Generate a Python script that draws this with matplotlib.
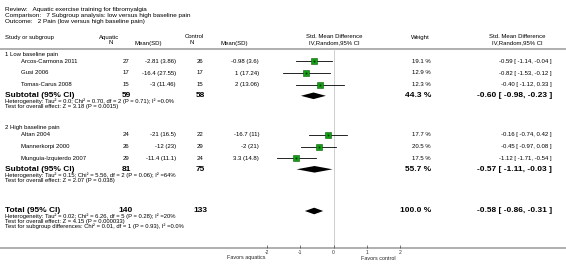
import matplotlib
matplotlib.use("Agg")
import matplotlib.pyplot as plt
import numpy as np

plt.rcParams['font.family'] = ['Liberation Sans', 'DejaVu Sans']

# ---- data ----
title_lines = [
    "Review:   Aquatic exercise training for fibromyalgia",
    "Comparison:   7 Subgroup analysis: low versus high baseline pain",
    "Outcome:   2 Pain (low versus high baseline pain)",
]
group_names = ["1 Low baseline pain", "2 High baseline pain"]

study_names = ["Arcos-Carmona 2011", "Gusi 2006", "Tomas-Carus 2008",
               "Altan 2004", "Mannerkorpi 2000", "Munguia-Izquierdo 2007"]
study_group = [0, 0, 0, 1, 1, 1]
aq_n = [27, 17, 15, 24, 26, 29]
aq_mean_sd = ["-2.81 (3.86)", "-16.4 (27.55)", "-3 (11.46)",
              "-21 (16.5)", "-12 (23)", "-11.4 (11.1)"]
ct_n = [26, 17, 15, 22, 29, 24]
ct_mean_sd = ["-0.98 (3.6)", "1 (17.24)", "2 (13.06)",
              "-16.7 (11)", "-2 (21)", "3.3 (14.8)"]
weights = [19.1, 12.9, 12.3, 17.7, 20.5, 17.5]
smd = [-0.59, -0.82, -0.40, -0.16, -0.45, -1.12]
ci_lo = [-1.14, -1.53, -1.12, -0.74, -0.97, -1.71]
ci_hi = [-0.04, -0.12, 0.33, 0.42, 0.08, -0.54]

sub_aq_n = [59, 81]
sub_ct_n = [58, 75]
sub_weight = [44.3, 55.7]
sub_smd = [-0.60, -0.57]
sub_lo = [-0.98, -1.11]
sub_hi = [-0.23, -0.03]
sub_notes = [
    ["Heterogeneity: Tau\u00b2 = 0.0; Chi\u00b2 = 0.70, df = 2 (P = 0.71); I\u00b2 =0.0%",
     "Test for overall effect: Z = 3.18 (P = 0.0015)"],
    ["Heterogeneity: Tau\u00b2 = 0.15; Chi\u00b2 = 5.56, df = 2 (P = 0.06); I\u00b2 =64%",
     "Test for overall effect: Z = 2.07 (P = 0.038)"],
]

total_aq_n = 140
total_ct_n = 133
total_weight = 100.0
total_smd, total_lo, total_hi = -0.58, -0.86, -0.31
total_notes = [
    "Heterogeneity: Tau\u00b2 = 0.02; Chi\u00b2 = 6.26, df = 5 (P = 0.28); I\u00b2 =20%",
    "Test for overall effect: Z = 4.15 (P = 0.000033)",
    "Test for subgroup differences: Chi\u00b2 = 0.01, df = 1 (P = 0.93), I\u00b2 =0.0%",
]
x_ticks = [-2, -1, 0, 1, 2]
favors = ["Favors aquatics", "Favors control"]

# ---- layout (pixels) ----
W, H = 566, 272
fig = plt.figure(figsize=(W / 100, H / 100), dpi=100)
ax = fig.add_axes([0, 0, 1, 1])
ax.set_xlim(0, W)
ax.set_ylim(H, 0)
ax.axis('off')

# forest panel: x=-2..2 spans px 267..400, y in the same pixel rows
fx_left, fx_right, fx_top, fx_bot = 267, 400, 49, 248
fx = fig.add_axes([fx_left / W, (H - fx_bot) / H,
                   (fx_right - fx_left) / W, (fx_bot - fx_top) / H])
fx.set_xlim(-2, 2)
fx.set_ylim(fx_bot, fx_top)
fx.patch.set_alpha(0)
for s in fx.spines.values():
    s.set_visible(False)
fx.set_yticks([])
fx.set_xticks(x_ticks)
fx.set_xticklabels([str(t) for t in x_ticks])
fx.tick_params(axis='x', direction='in', length=2, width=0.5,
               color='#444444', labelcolor='#333333', labelsize=3.6, pad=1.6)

fs_title, fs_head, fs_row, fs_note, fs_bold = 4.6, 4.3, 4.3, 4.2, 6.0
col_left, col_study = 5, 21
col_aq_n, col_aq_m = 126, 176
col_ct_n, col_ct_m = 200, 259
col_w, col_eff = 431, 552

# title block
for i, line in enumerate(title_lines):
    ax.text(col_left, 10 + i * 6.0, line, fontsize=fs_title, va='center')

# column headers
hy1, hy2 = 37, 43
ax.text(col_left, hy1, "Study or subgroup", fontsize=fs_head, va='center')
ax.text(109, hy1, "Aquatic", fontsize=fs_head, va='center', ha='center')
ax.text(111, hy2, "N", fontsize=fs_head, va='center', ha='center')
ax.text(148, hy2, "Mean(SD)", fontsize=fs_head, va='center', ha='center')
ax.text(194, hy1, "Control", fontsize=fs_head, va='center', ha='center')
ax.text(192, hy2, "N", fontsize=fs_head, va='center', ha='center')
ax.text(234, hy2, "Mean(SD)", fontsize=fs_head, va='center', ha='center')
ax.text(334, hy1, "Std. Mean Difference", fontsize=fs_head, va='center', ha='center')
ax.text(334, hy2, "IV,Random,95% CI", fontsize=fs_head, va='center', ha='center')
ax.text(420, hy1, "Weight", fontsize=fs_head, va='center', ha='center')
ax.text(517, hy1, "Std. Mean Difference", fontsize=fs_head, va='center', ha='center')
ax.text(517, hy2, "IV,Random,95% CI", fontsize=fs_head, va='center', ha='center')

ax.plot([0, W], [49, 49], color='#9a9a9a', lw=1.1, solid_capstyle='butt')
ax.plot([0, W], [fx_bot, fx_bot], color='#9a9a9a', lw=1.1, solid_capstyle='butt')

fx.axvline(0, color='#c8c8c8', lw=0.6, zorder=0)


def eff_text(m, lo, hi):
    return f"{m:.2f} [ {lo:.2f}, {hi:.2f} ]"


def diamond(y, m, lo, hi, h=3.3):
    fx.fill([lo, m, hi, m], [y, y - h, y, y + h], color='black', lw=0, clip_on=False)


group_top = [54.5, 128]
row_step = 11.7
for g, top in enumerate(group_top):
    ax.text(col_left, top, group_names[g], fontsize=fs_row, va='center')
    idx = [i for i, sg in enumerate(study_group) if sg == g]
    for k, i in enumerate(idx):
        y = top + 6.8 + k * row_step
        ax.text(col_study, y, study_names[i], fontsize=fs_row, va='center')
        ax.text(col_aq_n, y, str(aq_n[i]), fontsize=fs_row, va='center', ha='center')
        ax.text(col_aq_m, y, aq_mean_sd[i], fontsize=fs_row, va='center', ha='right')
        ax.text(col_ct_n, y, str(ct_n[i]), fontsize=fs_row, va='center', ha='center')
        ax.text(col_ct_m, y, ct_mean_sd[i], fontsize=fs_row, va='center', ha='right')
        ax.text(col_w, y, f"{weights[i]:.1f} %", fontsize=fs_row, va='center', ha='right')
        ax.text(col_eff, y, eff_text(smd[i], ci_lo[i], ci_hi[i]), fontsize=fs_row,
                va='center', ha='right')
        fx.plot([ci_lo[i], ci_hi[i]], [y, y], color='black', lw=0.6, clip_on=False)
        fx.plot(smd[i], y, marker='s', ms=np.sqrt(weights[i]) * 1.05,
                mfc='#14a014', mec='#0a5a0a', mew=0.4, clip_on=False)
        fx.plot(smd[i], y, marker='s', ms=1.2, mfc='#0a2a0a', mec='none', clip_on=False)
    ys = top + 6.8 + len(idx) * row_step - 0.6
    ax.text(col_left, ys, "Subtotal (95% CI)", fontsize=fs_bold, fontweight='bold', va='center')
    ax.text(col_aq_n, ys, str(sub_aq_n[g]), fontsize=fs_bold, fontweight='bold',
            va='center', ha='center')
    ax.text(col_ct_n, ys, str(sub_ct_n[g]), fontsize=fs_bold, fontweight='bold',
            va='center', ha='center')
    ax.text(col_w, ys, f"{sub_weight[g]:.1f} %", fontsize=fs_bold, fontweight='bold',
            va='center', ha='right')
    ax.text(col_eff, ys, eff_text(sub_smd[g], sub_lo[g], sub_hi[g]), fontsize=fs_bold,
            fontweight='bold', va='center', ha='right')
    diamond(ys, sub_smd[g], sub_lo[g], sub_hi[g])
    for j, note in enumerate(sub_notes[g]):
        ax.text(col_left, ys + 5.8 + j * 5.2, note, fontsize=fs_note, va='center')

# overall
yt = 211
ax.text(col_left, yt, "Total (95% CI)", fontsize=fs_bold, fontweight='bold', va='center')
ax.text(col_aq_n, yt, str(total_aq_n), fontsize=fs_bold, fontweight='bold',
        va='center', ha='center')
ax.text(col_ct_n, yt, str(total_ct_n), fontsize=fs_bold, fontweight='bold',
        va='center', ha='center')
ax.text(col_w, yt, f"{total_weight:.1f} %", fontsize=fs_bold, fontweight='bold',
        va='center', ha='right')
ax.text(col_eff, yt, eff_text(total_smd, total_lo, total_hi), fontsize=fs_bold,
        fontweight='bold', va='center', ha='right')
diamond(yt, total_smd, total_lo, total_hi)
for j, note in enumerate(total_notes):
    ax.text(col_left, yt + 5.4 + j * 4.9, note, fontsize=fs_note, va='center')

ax.text(246, 258, favors[0], fontsize=3.9, va='center', ha='center', color='#222222')
ax.text(378, 258, favors[1], fontsize=3.9, va='center', ha='center', color='#222222')

fig.savefig("out.png", dpi=100)
